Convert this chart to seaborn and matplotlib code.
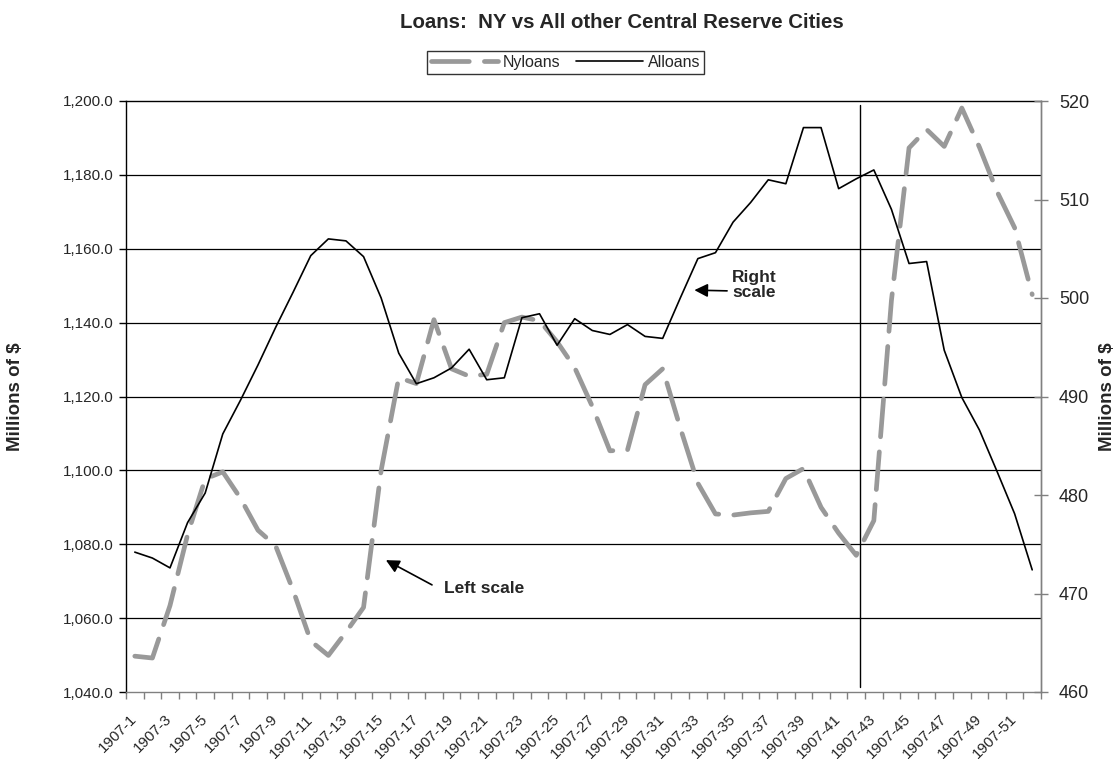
import numpy as np
import pandas as pd
import matplotlib
matplotlib.use("Agg")
import matplotlib.pyplot as plt
import matplotlib.ticker as mticker
import matplotlib.transforms as mtransforms
import seaborn as sns

# ---------------- data ----------------
weeks = [f"1907-{i}" for i in range(1, 53)]

ny_loans = [1049.7, 1049.2, 1063.4, 1082.6, 1097.7, 1099.6, 1092.5, 1083.8, 1079.6, 1067.5,
            1053.8, 1049.9, 1056.2, 1062.9, 1100.0, 1125.1, 1123.5, 1140.8, 1127.5, 1125.5,
            1126.0, 1140.0, 1141.5, 1140.5, 1134.8, 1127.8, 1117.3, 1105.3, 1105.5, 1123.2,
            1127.5, 1111.5, 1096.5, 1088.2, 1087.9, 1088.5, 1088.9, 1097.8, 1100.5, 1090.0,
            1083.0, 1077.0, 1086.4, 1146.0, 1187.3, 1192.3, 1187.7, 1198.1, 1187.5, 1175.5,
            1165.7, 1147.6]

all_loans = [474.2, 473.6, 472.6, 477.2, 480.2, 486.2, 489.6, 493.2, 497.0, 500.6,
             504.3, 506.0, 505.8, 504.2, 500.0, 494.4, 491.3, 491.9, 492.9, 494.8,
             491.7, 491.9, 498.0, 498.4, 495.2, 497.9, 496.7, 496.3, 497.3, 496.1,
             495.9, 500.0, 504.0, 504.6, 507.7, 509.7, 512.0, 511.6, 517.3, 517.3,
             511.1, 512.1, 513.0, 509.0, 503.5, 503.7, 494.7, 489.9, 486.6, 482.4,
             478.1, 472.4]

left_ticks = [1040, 1060, 1080, 1100, 1120, 1140, 1160, 1180, 1200]
right_ticks = [460, 470, 480, 490, 500, 510, 520]

# ---------------- style ----------------
sns.set_theme(style="white")
plt.rcParams['font.family'] = ['Liberation Sans', 'DejaVu Sans']

df = pd.DataFrame({"pos": np.arange(len(weeks)), "week": weeks,
                   "Nyloans": ny_loans, "Alloans": all_loans})

fig = plt.figure(figsize=(11.19, 7.59), dpi=100)
fig.patch.set_facecolor("white")
ax = fig.add_axes([126 / 1119, 1 - 692 / 759, 915 / 1119, 591 / 759])
ax2 = ax.twinx()

gray = "#999999"
sns.lineplot(data=df, x="pos", y="Nyloans", ax=ax, color=gray, linewidth=3.4,
             linestyle=(0, (8, 3.2)), dash_capstyle="round", solid_capstyle="round",
             dash_joinstyle="round", solid_joinstyle="round", legend=False)
sns.lineplot(data=df, x="pos", y="Alloans", ax=ax2, color="black", linewidth=1.2,
             legend=False)

# axes limits & ticks
ax.set_xlim(-0.5, len(weeks) - 0.5)
ax.set_ylim(1040, 1200)
ax2.set_ylim(460, 520)

ax.set_yticks(left_ticks)
ax.yaxis.set_major_formatter(mticker.FuncFormatter(lambda v, p: f"{v:,.1f}"))
ax2.set_yticks(right_ticks)
ax2.yaxis.set_major_formatter(mticker.FuncFormatter(lambda v, p: f"{v:.0f}"))

ax.set_xticks(np.arange(0, len(weeks), 2))
ax.set_xticklabels(weeks[::2], rotation=45, ha="right", va="center",
                   rotation_mode="anchor", fontsize=11)
shift = mtransforms.ScaledTranslation(-19 / 100, 0, fig.dpi_scale_trans)
for lab in ax.get_xticklabels():
    lab.set_transform(lab.get_transform() + shift)
ax.set_xticks(np.arange(-0.5, len(weeks), 1), minor=True)
ax.tick_params(axis="x", which="major", length=0, pad=18)
ax.tick_params(axis="x", which="minor", length=5, color="#808080", width=1,
               direction="out", bottom=True)
ax.tick_params(axis="y", which="major", length=5, color="black", width=1,
               direction="out", left=True, labelsize=11, pad=4)
ax2.tick_params(axis="y", which="major", length=10, color="#808080", width=1,
                direction="inout", right=True, labelsize=13, pad=8)

ax.set_xlabel("")
ax.set_ylabel("Millions of $", fontsize=13.5, fontweight="bold")
ax2.set_ylabel("Millions of $", fontsize=13.5, fontweight="bold", rotation=90,
               va="center")
ax.yaxis.set_label_coords((24 - 126) / 915, 0.5)
ax2.yaxis.set_label_coords((1108 - 126) / 915, 0.5)

# grid
ax.grid(False)
ax2.grid(False)
for v in left_ticks[1:-1]:
    ax.axhline(v, color="black", linewidth=0.9, zorder=0.5)

# spines
for s in ["left", "top"]:
    ax.spines[s].set_color("black")
    ax.spines[s].set_linewidth(1)
for s in ["bottom", "right"]:
    ax.spines[s].set_color("#808080")
    ax.spines[s].set_linewidth(1)
ax2.spines["right"].set_color("#808080")
ax2.spines["right"].set_linewidth(1)
for s in ["left", "top", "bottom"]:
    ax2.spines[s].set_visible(False)

# vertical marker line
ax.axvline(41.22, ymin=0.0085, ymax=0.993, color="black", linewidth=1.0, zorder=1)

# annotations
ax.annotate("", xy=(31.8, 1148.8), xytext=(33.66, 1148.6),
            arrowprops=dict(arrowstyle="-|>", color="black", lw=1.2, mutation_scale=20,
                            shrinkA=0, shrinkB=0))
ax.text(33.95, 1150.1, "Right\nscale", fontsize=12.5, fontweight="bold",
        ha="left", va="center", linespacing=1.0)
ax.annotate("", xy=(14.27, 1075.7), xytext=(16.89, 1069.0),
            arrowprops=dict(arrowstyle="-|>", color="black", lw=1.2, mutation_scale=20,
                            shrinkA=0, shrinkB=0))
ax.text(17.6, 1067.9, "Left scale", fontsize=12.5, fontweight="bold",
        ha="left", va="center")

# title
fig.text(622 / 1119, 1 - 22 / 759, "Loans:  NY vs All other Central Reserve Cities",
         fontsize=14.7, fontweight="bold", ha="center", va="center")

# legend
h1 = ax.get_lines()[0]
h2 = ax2.get_lines()[0]
leg = fig.legend([h1, h2], ["Nyloans", "Alloans"], loc="center",
                 bbox_to_anchor=(565.5 / 1119, 1 - 62.5 / 759), ncol=2,
                 fontsize=11.5, frameon=True, fancybox=False, handlelength=4.2,
                 handletextpad=0.3, columnspacing=1.0, borderpad=0.25)
leg.get_frame().set_edgecolor("black")
leg.get_frame().set_linewidth(1)

fig.savefig("out.png", dpi=100, facecolor="white")
